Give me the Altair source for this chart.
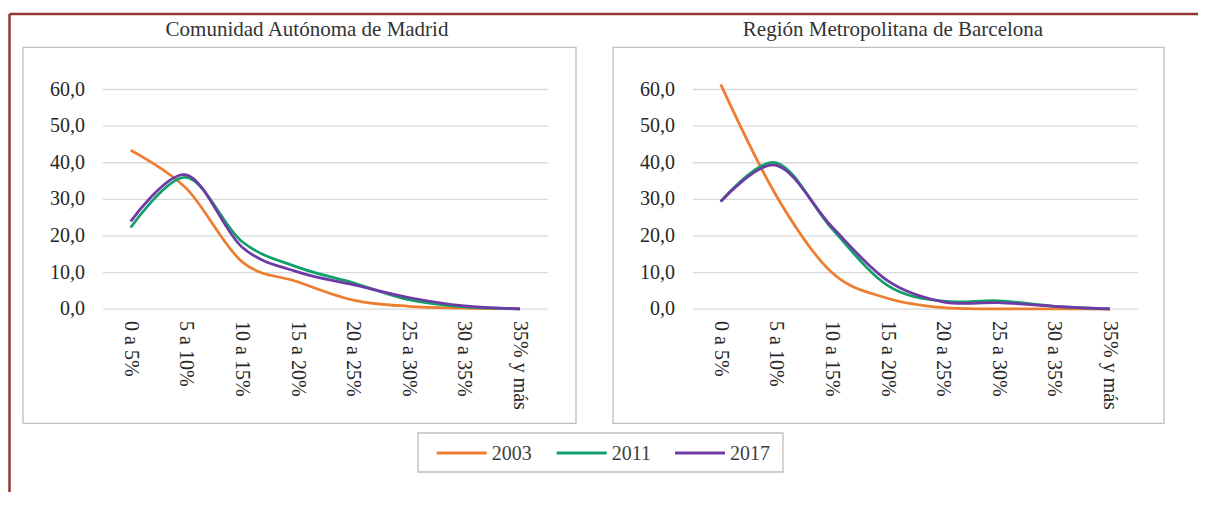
import altair as alt
import pandas as pd

# ---------------- data ----------------
categories = ["0 a 5%", "5 a 10%", "10 a 15%", "15 a 20%", "20 a 25%",
              "25 a 30%", "30 a 35%", "35% y más"]
years = ["2003", "2011", "2017"]
regions = ["Comunidad Autónoma de Madrid", "Región Metropolitana de Barcelona"]

madrid_2003 = [43.4, 33.0, 13.0, 7.5, 2.5, 0.8, 0.3, 0.1]
madrid_2011 = [22.3, 36.0, 18.5, 11.5, 7.2, 2.6, 0.6, 0.1]
madrid_2017 = [24.0, 36.7, 17.0, 10.2, 6.7, 3.2, 0.9, 0.1]

bcn_2003 = [61.4, 31.0, 10.0, 3.0, 0.4, 0.1, 0.1, 0.0]
bcn_2011 = [29.4, 40.0, 22.0, 6.5, 2.2, 2.3, 0.8, 0.1]
bcn_2017 = [29.4, 39.3, 22.5, 7.8, 2.0, 1.8, 0.8, 0.1]

y_ticks = [0, 10, 20, 30, 40, 50, 60]
colors = ["#ED7D31", "#12A06A", "#6F3AA6"]

series = {
    regions[0]: [madrid_2003, madrid_2011, madrid_2017],
    regions[1]: [bcn_2003, bcn_2011, bcn_2017],
}

# ---------------- layout ----------------
W, H = 1190, 484
X0_PX, DX_PX = 122.7, 55.6          # pixel of first category, pixel per category
Y0_PX, Y60_PX = 301.2, 81.5         # pixel of value 0 and value 60
BCN_SHIFT = 590.0 / DX_PX           # offset (in category units) of the 2nd panel
k = (Y0_PX - Y60_PX) / 60.0
xs = alt.Scale(domain=[-X0_PX / DX_PX, (W - X0_PX) / DX_PX], nice=False, zero=False)
ys = alt.Scale(domain=[(Y0_PX - H) / k, Y0_PX / k], nice=False, zero=False)
cs = alt.Scale(domain=years, range=colors)

FONT = "Liberation Serif"

rows = []
for r, reg in enumerate(regions):
    for yi, yr in enumerate(years):
        for i, cat in enumerate(categories):
            rows.append({"region": reg, "year": yr, "idx": i, "cat": cat,
                         "value": series[reg][yi][i], "xpos": i + r * BCN_SHIFT})
df = pd.DataFrame(rows)

grid_rows, xlab_rows = [], []
for r, reg in enumerate(regions):
    for t in y_ticks:
        grid_rows.append({"gx": -0.5 + r * BCN_SHIFT, "gx2": len(categories) - 0.5 + r * BCN_SHIFT,
                          "tick": t, "label": f"{t:.1f}".replace(".", ",")})
    for i, cat in enumerate(categories):
        xlab_rows.append({"xpos": i + r * BCN_SHIFT, "cat": cat})
grid_df = pd.DataFrame(grid_rows)
xlab_df = pd.DataFrame(xlab_rows)

one = pd.DataFrame({"a": [0]})

# ---------------- marks ----------------
boxes = [
    alt.Chart(one).mark_rect(fill="white", stroke="#bfbfbf", strokeWidth=1.3).encode(
        x=alt.value(x1), x2=alt.value(x2), y=alt.value(y1), y2=alt.value(y2))
    for x1, x2, y1, y2 in [(15, 568, 39.3, 415.3), (605, 1156, 39.3, 415.3), (410, 775, 425, 464)]
]

grid = alt.Chart(grid_df).mark_rule(color="#d9d9d9", strokeWidth=1.3).encode(
    x=alt.X("gx:Q", scale=xs, axis=None),
    x2="gx2:Q",
    y=alt.Y("tick:Q", scale=ys, axis=None),
)

ylabels = alt.Chart(grid_df).mark_text(align="right", baseline="middle", dx=-18,
                                       font=FONT, fontSize=20, color="#262626").encode(
    x=alt.X("gx:Q", scale=xs, axis=None),
    y=alt.Y("tick:Q", scale=ys, axis=None),
    text="label:N",
)

xlabels = alt.Chart(xlab_df).mark_text(angle=90, align="left", baseline="middle",
                                       font=FONT, fontSize=20, color="#262626").encode(
    x=alt.X("xpos:Q", scale=xs, axis=None),
    y=alt.value(313),
    text="cat:N",
)

lines = alt.Chart(df).mark_line(interpolate="cardinal", strokeWidth=2.75).encode(
    x=alt.X("xpos:Q", scale=xs, axis=None),
    y=alt.Y("value:Q", scale=ys, axis=None),
    color=alt.Color("year:N", scale=cs, legend=None),
    detail="region:N",
    order="idx:Q",
)

# legend (drawn by hand so that it keeps the flat box of the original)
legend_marks = []
LEG_X = [428.7, 548.7, 667.0]
for yr, lx in zip(years, LEG_X):
    d = pd.DataFrame({"year": [yr]})
    legend_marks.append(
        alt.Chart(d).mark_rule(strokeWidth=3).encode(
            x=alt.value(lx), x2=alt.value(lx + 50), y=alt.value(445),
            color=alt.Color("year:N", scale=cs, legend=None)))
    legend_marks.append(
        alt.Chart(d).mark_text(align="left", baseline="middle", font=FONT, fontSize=20,
                               color="#404040").encode(
            x=alt.value(lx + 55), y=alt.value(445.5), text="year:N"))

titles = [
    alt.Chart(one).mark_text(text=t, font=FONT, fontSize=21, color="#333333",
                             align="center", baseline="alphabetic").encode(
        x=alt.value(cx), y=alt.value(27.7))
    for t, cx in [(regions[0], 299), (regions[1], 885)]
]

border = [
    alt.Chart(one).mark_rule(color="#953735", strokeWidth=2.5).encode(
        x=alt.value(1.5), x2=alt.value(W), y=alt.value(6)),
    alt.Chart(one).mark_rule(color="#953735", strokeWidth=2.5).encode(
        x=alt.value(1.5), y=alt.value(6), y2=alt.value(H)),
]

chart = alt.layer(*boxes, grid, lines, ylabels, xlabels, *legend_marks, *titles, *border).properties(
    width=W, height=H, padding=0,
    autosize=alt.AutoSizeParams(type="none"),
    background="white",
).configure_view(stroke="transparent")

chart.save("out.html", embed_options={"renderer": "svg", "actions": False})
